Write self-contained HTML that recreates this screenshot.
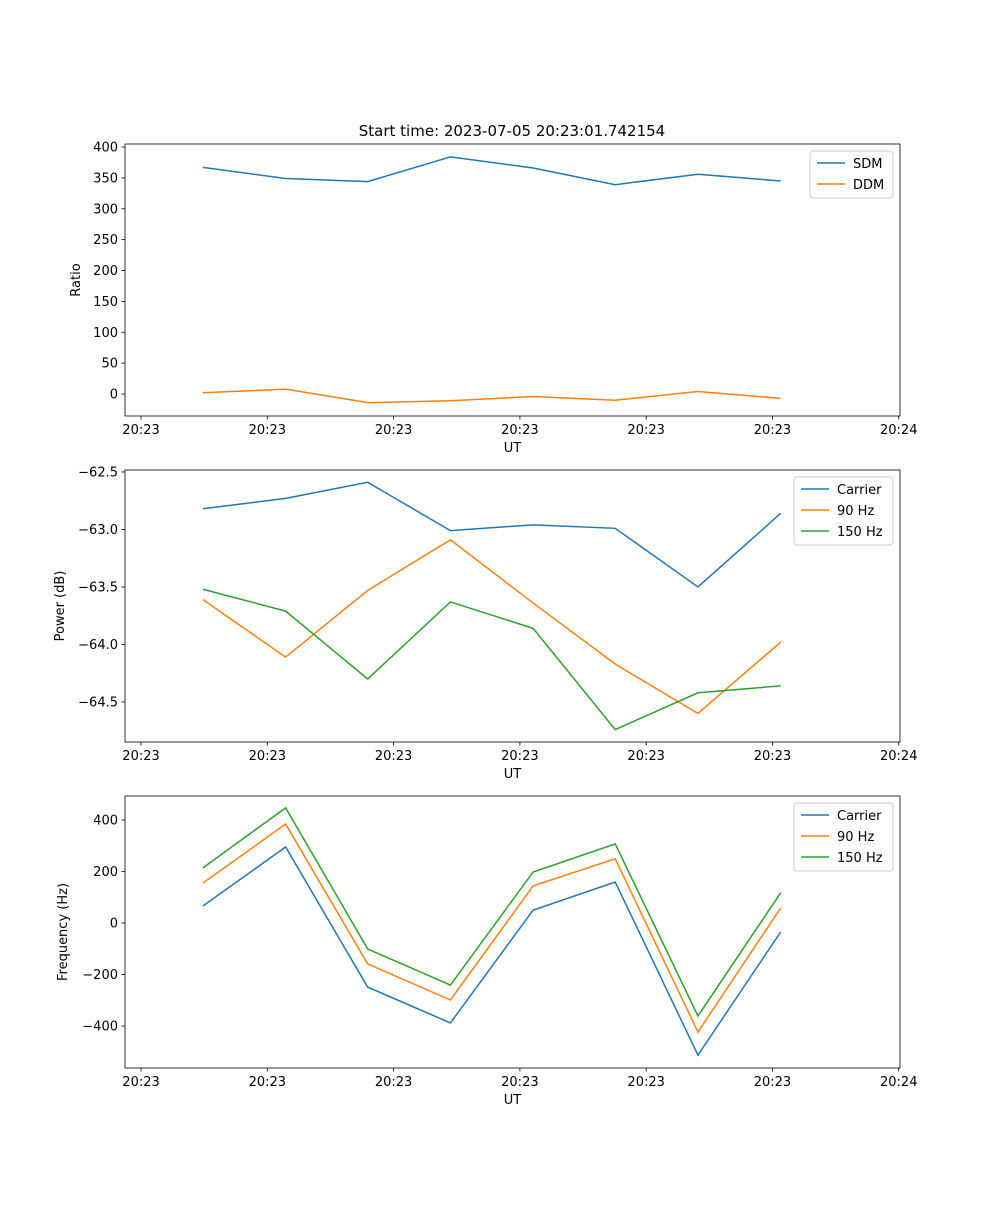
<!DOCTYPE html>
<html><head><meta charset="utf-8"><style>
body{margin:0;background:#fff;font-family:"Liberation Sans",sans-serif;}
svg text{font-family:"DejaVu Sans","Liberation Sans",sans-serif;font-size:13px;fill:#000;}
</style></head><body>
<svg id="fig" width="1000" height="1200" viewBox="0 0 1000 1200">
<rect width="1000" height="1200" fill="#fff"/>
<text x="512" y="136" text-anchor="middle" style="font-size:15px">Start time: 2023-07-05 20:23:01.742154</text>
</svg>
<script>
const times = [4.9, 11.45, 17.95, 24.5, 31.05, 37.55, 44.1, 50.65];
const xTicks = [0, 10, 20, 30, 40, 50, 60];
const xTickLabels = ["20:23","20:23","20:23","20:23","20:23","20:23","20:24"];
const sdm = [367, 349, 344, 384, 366, 339, 356, 345];
const ddm = [2, 8, -14, -11, -4, -10, 4, -7];
const pCarrier = [-62.82, -62.73, -62.59, -63.01, -62.96, -62.99, -63.50, -62.86];
const p90 = [-63.61, -64.11, -63.53, -63.09, -63.64, -64.17, -64.60, -63.98];
const p150 = [-63.52, -63.71, -64.30, -63.63, -63.86, -64.74, -64.42, -64.36];
const fCarrier = [66, 295, -249, -388, 50, 159, -513, -35];
const f90 = [155, 384, -159, -299, 144, 249, -423, 58];
const f150 = [214, 447, -101, -241, 198, 307, -361, 117];
const ticks1 = [0, 50, 100, 150, 200, 250, 300, 350, 400];
const ticks2 = [-64.5, -64.0, -63.5, -63.0, -62.5];
const ticks3 = [-400, -200, 0, 200, 400];

const NS = "http://www.w3.org/2000/svg";
const svg = document.getElementById("fig");
function mk(tag, attrs, parent) {
  const e = document.createElementNS(NS, tag);
  for (const k in attrs) e.setAttribute(k, attrs[k]);
  (parent || svg).appendChild(e);
  return e;
}
const X0 = 125, X1 = 900, XD0 = -1.27, XD1 = 60.1;
const xs = t => X0 + (t - XD0) / (XD1 - XD0) * (X1 - X0);
const colors = ["#1f77b4", "#ff7f0e", "#2ca02c"];

function panel(name, top, bot, d0, d1, yt, yfmt, ylabel, series, names, legend) {
  const ys = v => bot - (v - d0) / (d1 - d0) * (bot - top);
  const g = mk("g", {});
  
  
  series.forEach((s, i) => {
    const p = mk("polyline", { points: s.map((v, j) => xs(times[j]) + "," + ys(v)).join(" "), fill: "none", stroke: colors[i], "stroke-width": 1.5 }, g);
    
    
  });
  mk("rect", { x: X0, y: top, width: X1 - X0, height: bot - top, fill: "none", stroke: "#000", "stroke-width": 0.8 }, g);
  xTicks.forEach((t, i) => {
    const x = xs(t);
    mk("line", { x1: x, x2: x, y1: bot, y2: bot + 3.5, stroke: "#000", "stroke-width": 0.8 }, g);
    const tx = mk("text", { x: x, y: bot + 18, "text-anchor": "middle" }, g);
    tx.textContent = xTickLabels[i];
    
    
  });
  const xl = mk("text", { x: (X0 + X1) / 2, y: bot + 36, "text-anchor": "middle" }, g);
  xl.textContent = "UT";
  
  
  yt.forEach(v => {
    const y = ys(v);
    mk("line", { x1: X0 - 3.5, x2: X0, y1: y, y2: y, stroke: "#000", "stroke-width": 0.8 }, g);
    const tx = mk("text", { x: X0 - 7, y: y + 4.5, "text-anchor": "end" }, g);
    tx.textContent = yfmt(v);
    
    
  });
  const yl = mk("text", { x: 0, y: 0, "text-anchor": "middle", transform: `translate(${ylabel[1]},${(top + bot) / 2}) rotate(-90)` }, g);
  yl.textContent = ylabel[0];
  
  
  const [lx, ly, lw] = legend;
  const lg = mk("g", {}, g);
  
  
  mk("rect", { x: lx, y: ly, width: lw, height: 5 + names.length * 21, rx: 3, fill: "#fff", "fill-opacity": 0.8, stroke: "#ccc" }, lg);
  names.forEach((n, i) => {
    const yy = ly + 12 + i * 21;
    mk("line", { x1: lx + 7, x2: lx + 35, y1: yy, y2: yy, stroke: colors[i], "stroke-width": 1.5 }, lg);
    const tx = mk("text", { x: lx + 43, y: yy + 5 }, lg);
    tx.textContent = n;
    
    
  });
}
panel("ratio-panel", 144, 416, -35.6, 404.9, ticks1, v => v.toString().replace("-", "−"), ["Ratio", 80], [sdm, ddm], ["SDM", "DDM"], [810, 151, 83]);
panel("power-panel", 470, 742, -64.848, -62.483, ticks2, v => v.toFixed(1).replace("-", "−"), ["Power (dB)", 64], [pCarrier, p90, p150], ["Carrier", "90 Hz", "150 Hz"], [794, 477, 99]);
panel("frequency-panel", 796, 1068, -563, 493, ticks3, v => v.toString().replace("-", "−"), ["Frequency (Hz)", 67], [fCarrier, f90, f150], ["Carrier", "90 Hz", "150 Hz"], [794, 803, 99]);
</script>
</body></html>
